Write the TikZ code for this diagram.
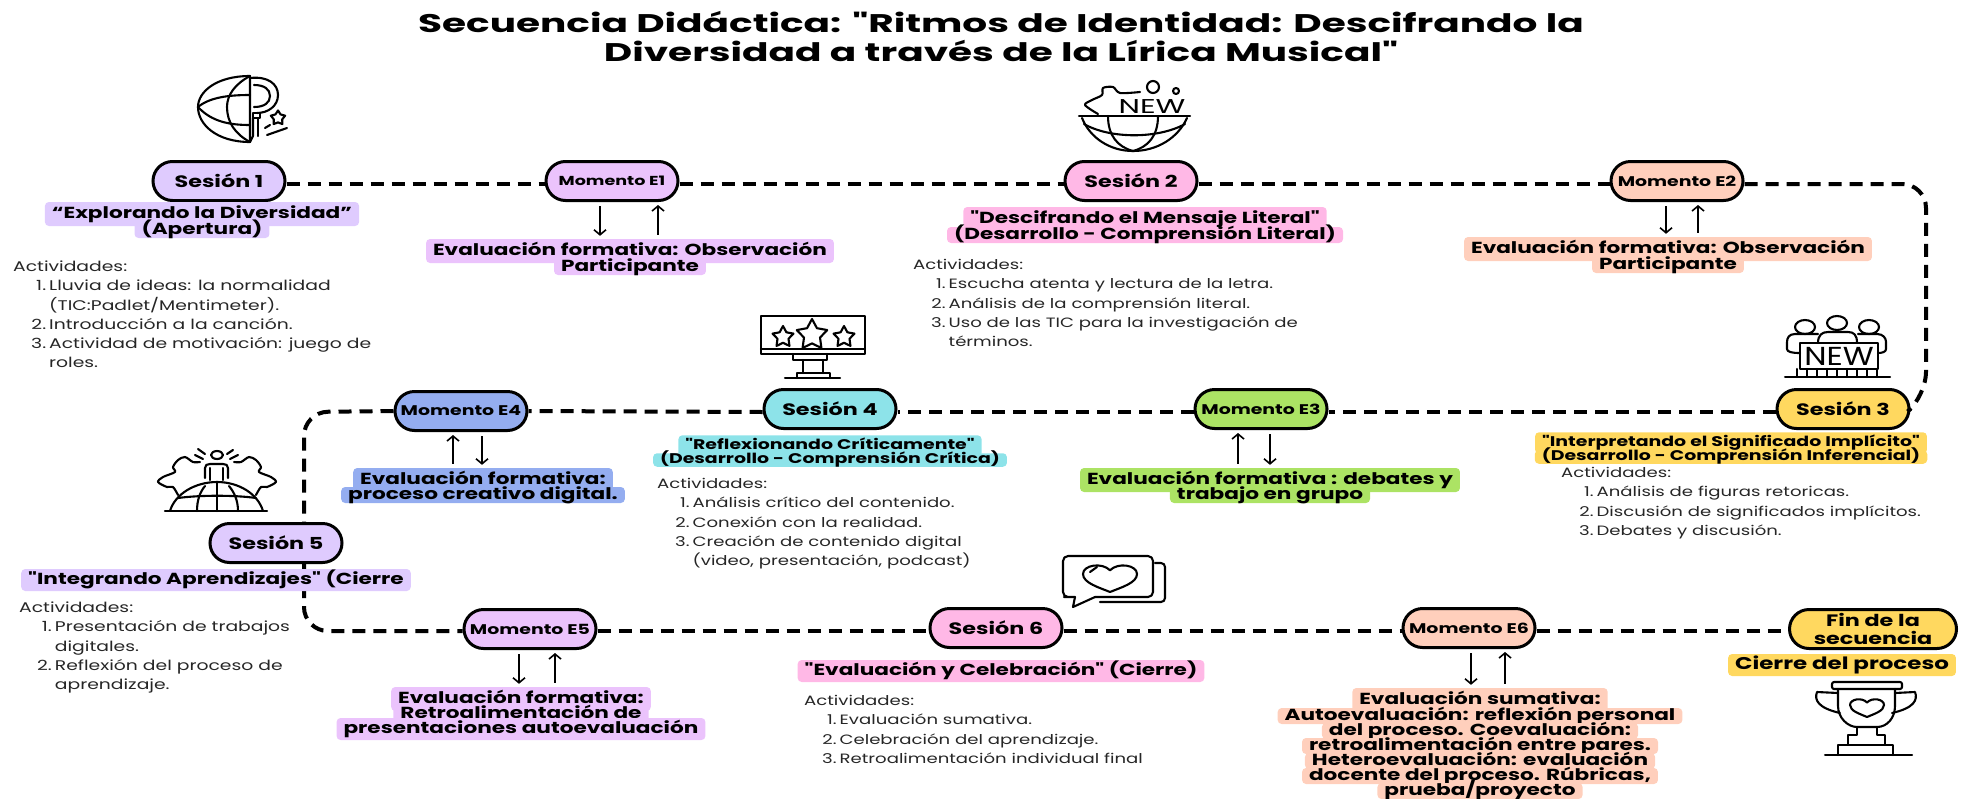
\documentclass[tikz,border=0pt]{standalone}
\usepackage{fontspec}
\setmainfont[FakeStretch=1.22, Ligatures=ResetAll]{Poppins}
\newfontfamily\wideface[FakeStretch=1.35, Ligatures=ResetAll]{Poppins}
\newfontfamily\titleface[FakeStretch=1.53, Ligatures=ResetAll]{Poppins}
\newfontfamily\listface[FakeStretch=1.34, Ligatures=ResetAll]{Poppins}
\usetikzlibrary{arrows.meta}
\usetikzlibrary{shapes.geometric}
\usetikzlibrary{shapes.misc}
\definecolor{lav}{HTML}{DFCBFE}
\definecolor{orchid}{HTML}{EBC3FC}
\definecolor{rosa}{HTML}{FFB8E6}
\definecolor{peach}{HTML}{FFCFBC}
\definecolor{lime}{HTML}{ACE364}
\definecolor{gold}{HTML}{FFD85F}
\definecolor{aqua}{HTML}{8DE3E9}
\definecolor{sky}{HTML}{94ADF0}
\newenvironment{actividades}{\begin{tabular}{@{\hspace{18pt}}r@{\hspace{3pt}}l@{}}\multicolumn{2}{@{}l@{}}{Actividades:}\\}{\end{tabular}}
\tikzstyle{pill}=[draw, line width=3pt, rounded rectangle, inner sep=0, minimum height=39pt, text=black]
\tikzstyle{sesion}=[pill, minimum width=132pt, font=\wideface\bfseries\fontsize{16.5}{18}\selectfont]
\tikzstyle{momento}=[pill, minimum width=132pt, font=\wideface\bfseries\fontsize{14}{15}\selectfont]
\tikzstyle{hl}=[rounded corners=4pt, inner xsep=7pt, inner ysep=0, text height=12pt, text depth=4pt, font=\wideface\bfseries\fontsize{16}{18}\selectfont]
\tikzstyle{hlsmall}=[hl, text height=10.5pt, text depth=3pt, font=\wideface\bfseries\fontsize{14}{15}\selectfont]
\tikzstyle{toprow}=[inner ysep=4pt]
\tikzstyle{solorow}=[inner ysep=3pt]
\tikzstyle{actlist}=[anchor=north west, inner sep=0, font=\listface\fontsize{13.5}{19.2}\selectfont, text=black!85]
\tikzstyle{trail}=[line width=4pt, dash pattern=on 13pt off 8pt, rounded corners=24pt]
\tikzstyle{flow}=[line width=1.6pt, shorten <=4pt, shorten >=3pt, -{Straight Barb[length=5pt, width=12pt]}]
\tikzstyle{icon}=[line width=2.1pt, line cap=round, line join=round]
\tikzset{heart/.pic={\draw[icon] (0,1) .. controls (-0.4,0.7) and (-1,0.4) .. (-1,-0.2) .. controls (-1,-0.8) and (-0.3,-1) .. (0,-0.45) .. controls (0.3,-1) and (1,-0.8) .. (1,-0.2) .. controls (1,0.4) and (0.4,0.7) .. (0,1) -- cycle;}}
\begin{document}
\begin{tikzpicture}[x=1pt, y=-1pt]
        \useasboundingbox (0,0) rectangle (1969,798);
        \node[align=center, font=\titleface\bfseries\fontsize{25.5}{29}\selectfont] (title) at (1001,37) {Secuencia Didáctica: "Ritmos de Identidad: Descifrando la\\Diversidad a través de la Lírica Musical"};
        % Row one.
        \node[sesion, fill=lav] (sesion1) at (219,181) {Sesión 1};
        \node[momento, fill=orchid, font=\wideface\bfseries\fontsize{13}{15}\selectfont] (momentoE1) at (612,181) {Momento E1};
        \node[sesion, fill=rosa] (sesion2) at (1131,181) {Sesión 2};
        \node[momento, fill=peach] (momentoE2) at (1677,181) {Momento E2};
        % Row two.
        \node[sesion, fill=gold] (sesion3) at (1843,409) {Sesión 3};
        \node[momento, fill=lime] (momentoE3) at (1261,409) {Momento E3};
        \node[sesion, fill=aqua] (sesion4) at (830,409) {Sesión 4};
        \node[momento, fill=sky] (momentoE4) at (461,411) {Momento E4};
        % Row three.
        \node[sesion, fill=lav] (sesion5) at (276,543) {Sesión 5};
        \node[momento, fill=orchid] (momentoE5) at (530,629) {Momento E5};
        \node[sesion, fill=rosa] (sesion6) at (996,628) {Sesión 6};
        \node[momento, fill=peach] (momentoE6) at (1469,628) {Momento E6};
        \node[sesion, fill=gold, minimum width=167pt, align=center, font=\wideface\bfseries\fontsize{16.5}{18}\selectfont] (fin) at (1873,629) {Fin de la\\secuencia};
        \coordinate (turnNE) at (1926,184);
        \coordinate (turnSE) at (1926,396);
        \coordinate (turnNW) at (304,412);
        \coordinate (turnSW) at (304,631);
        \draw[trail] ([yshift=-3pt]sesion1.east) -- ([yshift=-3pt]momentoE1.west);
        \draw[trail] ([yshift=-3pt]momentoE1.east) -- ([yshift=-3pt]sesion2.west);
        \draw[trail] ([yshift=-3pt]sesion2.east) -- ([yshift=-3pt]momentoE2.west);
        \draw[trail] ([yshift=-3pt]momentoE2.east) -- (turnNE) -- (turnSE) -- (sesion3.east);
        \draw[trail] ([yshift=-3pt]sesion3.west) -- ([yshift=-3pt]momentoE3.east);
        \draw[trail] ([yshift=-3pt]momentoE3.west) -- ([yshift=-3pt]sesion4.east);
        \draw[trail] ([yshift=-3pt]sesion4.west) -- (momentoE4.east);
        \draw[trail] (momentoE4.west) -- (turnNW) -- ([xshift=28pt]sesion5.north);
        \draw[trail] ([xshift=28pt]sesion5.south) -- (turnSW) -- ([yshift=-2pt]momentoE5.west);
        \draw[trail] ([yshift=-2pt]momentoE5.east) -- ([yshift=-3pt]sesion6.west);
        \draw[trail] ([yshift=-3pt]sesion6.east) -- ([yshift=-3pt]momentoE6.west);
        \draw[trail] ([yshift=-3pt]momentoE6.east) -- ([yshift=-2pt]fin.west);
        % Highlighted labels, one node per printed line.
        \node[hl, toprow, fill=lav] (labelS1a) at (202,214) {“Explorando la Diversidad”};
        \node[hl, fill=lav] (labelS1b) at (202,230) {(Apertura)};
        \node[hl, toprow, fill=orchid] (labelE1a) at (630,251) {Evaluación formativa: Observación};
        \node[hl, fill=orchid] (labelE1b) at (630,267) {Participante};
        \node[hl, toprow, fill=rosa] (labelS2a) at (1145,219) {"Descifrando el Mensaje Literal"};
        \node[hl, fill=rosa] (labelS2b) at (1145,235) {(Desarrollo - Comprensión Literal)};
        \node[hl, toprow, fill=peach] (labelE2a) at (1668,249) {Evaluación formativa: Observación};
        \node[hl, fill=peach] (labelE2b) at (1668,265) {Participante};
        \node[hlsmall, toprow, fill=gold] (labelS3a) at (1731,443) {"Interpretando el Significado Implícito"};
        \node[hlsmall, fill=gold] (labelS3b) at (1731,457) {(Desarrollo - Comprensión Inferencial)};
        \node[hl, toprow, fill=lime] (labelE3a) at (1270,480) {Evaluación formativa : debates y};
        \node[hl, fill=lime] (labelE3b) at (1270,495) {trabajo en grupo};
        \node[hlsmall, toprow, fill=aqua] (labelS4a) at (830,446) {"Reflexionando Críticamente"};
        \node[hlsmall, fill=aqua] (labelS4b) at (830,460) {(Desarrollo - Comprensión Crítica)};
        \node[hl, toprow, fill=sky] (labelE4a) at (483,480) {Evaluación formativa:};
        \node[hl, fill=sky] (labelE4b) at (483,495) {proceso creativo digital.};
        \node[hl, solorow, fill=lav] (labelS5) at (216,580) {"Integrando Aprendizajes" (Cierre};
        \node[hl, toprow, fill=orchid] (labelE5a) at (521,699) {Evaluación formativa:};
        \node[hl, fill=orchid] (labelE5b) at (521,714) {Retroalimentación de};
        \node[hl, solorow, fill=orchid] (labelE5c) at (521,729) {presentaciones autoevaluación};
        \node[hl, solorow, fill=rosa] (labelS6) at (1001,671) {"Evaluación y Celebración" (Cierre)};
        \node[hl, toprow, fill=peach] (labelE6a) at (1480,700) {Evaluación sumativa:};
        \node[hl, fill=peach] (labelE6b) at (1480,716) {Autoevaluación: reflexión personal};
        \node[hl, fill=peach] (labelE6c) at (1480,731) {del proceso. Coevaluación:};
        \node[hl, fill=peach] (labelE6d) at (1480,746) {retroalimentación entre pares.};
        \node[hl, fill=peach] (labelE6e) at (1480,761) {Heteroevaluación: evaluación};
        \node[hl, fill=peach] (labelE6f) at (1480,776) {docente del proceso. Rúbricas,};
        \node[hl, fill=peach] (labelE6g) at (1480,791) {prueba/proyecto};
        \node[hl, solorow, fill=gold, font=\wideface\bfseries\fontsize{17}{18}\selectfont] (labelFin) at (1842,665) {Cierre del proceso};
        % Arrows between the moments and their labels.
        \draw[flow] ([xshift=-12pt]momentoE1.south) -- ([xshift=-12pt]momentoE1.south |- labelE1a.north);
        \draw[flow] ([xshift=46pt]momentoE1.south |- labelE1a.north) -- ([xshift=46pt]momentoE1.south);
        \draw[flow] ([xshift=-11pt]momentoE2.south) -- ([xshift=-11pt]momentoE2.south |- labelE2a.north);
        \draw[flow] ([xshift=21pt]momentoE2.south |- labelE2a.north) -- ([xshift=21pt]momentoE2.south);
        \draw[flow] ([xshift=-23pt]momentoE3.south |- labelE3a.north) -- ([xshift=-23pt]momentoE3.south);
        \draw[flow] ([xshift=9pt]momentoE3.south) -- ([xshift=9pt]momentoE3.south |- labelE3a.north);
        \draw[flow] ([xshift=-8pt]momentoE4.south |- labelE4a.north) -- ([xshift=-8pt]momentoE4.south);
        \draw[flow] ([xshift=21pt]momentoE4.south) -- ([xshift=21pt]momentoE4.south |- labelE4a.north);
        \draw[flow] ([xshift=-11pt]momentoE5.south) -- ([xshift=-11pt]momentoE5.south |- labelE5a.north);
        \draw[flow] ([xshift=25pt]momentoE5.south |- labelE5a.north) -- ([xshift=25pt]momentoE5.south);
        \draw[flow] ([xshift=2pt]momentoE6.south) -- ([xshift=2pt]momentoE6.south |- labelE6a.north);
        \draw[flow] ([xshift=36pt]momentoE6.south |- labelE6a.north) -- ([xshift=36pt]momentoE6.south);
        % Activity lists.
        \node[actlist, font=\listface\fontsize{14}{19.2}\selectfont] (listS1) at (13,258) {\begin{actividades}
            1.&Lluvia de ideas: la normalidad\\
            &(TIC:Padlet/Mentimeter).\\
            2.&Introducción a la canción.\\
            3.&Actividad de motivación: juego de\\
            &roles.
        \end{actividades}};
        \node[actlist] (listS2) at (913,256) {\begin{actividades}
            1.&Escucha atenta y lectura de la letra.\\
            2.&Análisis de la comprensión literal.\\
            3.&Uso de las TIC para la investigación de\\
            &términos.
        \end{actividades}};
        \node[actlist] (listS3) at (1561,464) {\begin{actividades}
            1.&Análisis de figuras retoricas.\\
            2.&Discusión de significados implícitos.\\
            3.&Debates y discusión.
        \end{actividades}};
        \node[actlist] (listS4) at (657,475) {\begin{actividades}
            1.&Análisis crítico del contenido.\\
            2.&Conexión con la realidad.\\
            3.&Creación de contenido digital\\
            &(video, presentación, podcast)
        \end{actividades}};
        \node[actlist, font=\listface\fontsize{14}{19.2}\selectfont] (listS5) at (19,599) {\begin{actividades}
            1.&Presentación de trabajos\\
            &digitales.\\
            2.&Reflexión del proceso de\\
            &aprendizaje.
        \end{actividades}};
        \node[actlist] (listS6) at (804,692) {\begin{actividades}
            1.&Evaluación sumativa.\\
            2.&Celebración del aprendizaje.\\
            3.&Retroalimentación individual final
        \end{actividades}};
        % Globe with key.
        \draw[icon] (250,76) .. controls (216,76) and (198,92) .. (198,107) .. controls (198,124) and (216,142) .. (250,142) -- cycle;
        \draw[icon] (250,76) .. controls (235,84) and (227,95) .. (227,107) .. controls (227,122) and (235,134) .. (250,142);
        \draw[icon] (198,107) .. controls (210,97) and (230,95) .. (250,95);
        \draw[icon] (198,107) .. controls (212,122) and (230,125) .. (250,125);
        \draw[icon] (250,78) .. controls (268,76) and (278,84) .. (278,95) .. controls (278,106) and (268,113) .. (257,113);
        \draw[icon] (254,85) .. controls (264,85) and (270,89) .. (270,96) .. controls (270,103) and (264,107) .. (254,107);
        \draw[icon] (253,113) rectangle (260,118);
        \draw[icon] (253,118) -- (253,136) -- (250,142);
        \draw[icon] (258,118) -- (258,136);
        \node[icon, draw, star, star points=5, star point ratio=1.7, minimum size=15pt, inner sep=0] (starKey) at (278,118) {};
        \draw[icon] (265,128) -- (270,125);
        \draw[icon] (267,135) -- (287,128);
        % Globe with cloud.
        \draw[icon] plot[smooth] coordinates {(1098,114) (1085,105) (1092,100) (1102,95) (1103,88) (1113,87) (1120,93) (1140,92)};
        \draw[icon] (1153,87) circle[radius=6];
        \draw[icon] (1176,91) circle[radius=3];
        \node[inner sep=0, xscale=1.25, transform shape, font=\fontsize{20}{20}\selectfont] (newA) at (1152,107) {NEW};
        \draw[icon] (1079,116) -- (1190,116);
        \draw[icon] (1082,118) .. controls (1090,138) and (1110,151) .. (1133,151) .. controls (1157,151) and (1178,138) .. (1187,118);
        \draw[icon] (1084,124) .. controls (1110,139) and (1158,139) .. (1185,124);
        \draw[icon] (1108,116) .. controls (1108,136) and (1118,147) .. (1133,151) .. controls (1148,147) and (1158,136) .. (1158,116);
        % Monitor with stars.
        \draw[icon] (761,316) rectangle (865,354);
        \draw[icon] (761,349) -- (865,349);
        \draw[icon] (793,354) -- (793,360) -- (827,360) -- (827,354);
        \draw[icon] (803,360) -- (803,373);
        \draw[icon] (823,360) -- (823,373);
        \draw[icon] (797,378) -- (797,373) -- (830,373) -- (830,378);
        \draw[icon] (785,378) -- (840,378);
        \node[icon, draw, star, star points=5, star point ratio=1.9, minimum size=22pt, inner sep=0] (starLeft) at (783,337) {};
        \node[icon, draw, star, star points=5, star point ratio=1.9, minimum size=32pt, inner sep=0] (starMid) at (812,335) {};
        \node[icon, draw, star, star points=5, star point ratio=1.9, minimum size=22pt, inner sep=0] (starRight) at (844,337) {};
        % People with banner.
        \draw[icon] (1805,327) ellipse[x radius=10, y radius=7];
        \draw[icon] (1837,323) ellipse[x radius=10, y radius=7];
        \draw[icon] (1869,327) ellipse[x radius=10, y radius=7];
        \draw[icon] (1818,343) .. controls (1818,335) and (1822,332) .. (1828,332) -- (1848,332) .. controls (1854,332) and (1857,335) .. (1857,343);
        \draw[icon] (1800,343) rectangle (1878,369);
        \draw[icon] (1818,334) -- (1795,334) .. controls (1789,334) and (1787,338) .. (1787,342) -- (1787,349) .. controls (1787,352) and (1792,353) .. (1800,353);
        \draw[icon] (1858,334) -- (1877,334) .. controls (1883,334) and (1886,338) .. (1886,342) -- (1886,349) .. controls (1886,352) and (1882,353) .. (1878,353);
        \foreach \xtick in {1797,1807,...,1877} {\draw[icon] (\xtick,369) -- (\xtick,377);}
        \draw[icon] (1785,377) -- (1890,377);
        \node[inner sep=0, font=\fontsize{26}{26}\selectfont] (newB) at (1839,356) {NEW};
        % Person on globe.
        \draw[icon] (165,511) -- (267,511);
        \draw[icon] (170,511) .. controls (175,494) and (195,482) .. (217,482) .. controls (239,482) and (258,494) .. (263,511);
        \draw[icon] (217,482) -- (217,511);
        \draw[icon] (197,511) .. controls (197,500) and (200,492) .. (205,486);
        \draw[icon] (238,511) .. controls (238,500) and (234,492) .. (229,486);
        \draw[icon] (178,498) .. controls (200,495) and (235,495) .. (256,498);
        \draw[icon] (205,478) -- (205,468) .. controls (205,465) and (207,464) .. (210,464) -- (223,464) .. controls (226,464) and (228,465) .. (228,468) -- (228,478);
        \draw[icon] (210,468) -- (210,480);
        \draw[icon] (223,468) -- (223,480);
        \draw[icon] (217,455) ellipse[x radius=6, y radius=4];
        \draw[icon] (195,455) -- (203,459);
        \draw[icon] (198,449) -- (205,454);
        \draw[icon] (233,450) -- (227,454);
        \draw[icon] (238,455) -- (230,459);
        \draw[icon] plot[smooth] coordinates {(200,462) (193,462) (185,457) (178,460) (173,467) (175,472) (163,477) (158,482) (167,487) (173,487) (178,495)};
        \draw[icon] plot[smooth] coordinates {(234,462) (241,462) (249,457) (256,460) (261,467) (259,472) (271,477) (276,482) (267,487) (261,487) (256,495)};
        % Speech bubble.
        \draw[icon, rounded corners=5pt] (1075,597) -- (1069,597) -- (1063,597) -- (1063,556) -- (1153,556) -- (1153,597) -- (1095,597);
        \draw[icon] (1075,597) -- (1073,607) -- (1095,597);
        \draw[icon, rounded corners=4pt] (1155,563) -- (1165,563) -- (1165,602) -- (1100,602);
        \pic[xscale=27, yscale=15] (heartChat) at (1110,577) {heart};
        \draw[icon] (1090,572) -- (1097,567);
        % Trophy.
        \draw[icon, rounded corners=2pt] (1832,682) rectangle (1902,689);
        \draw[icon] (1838,689) -- (1838,706) .. controls (1838,718) and (1848,727) .. (1857,727) -- (1877,727) .. controls (1887,727) and (1895,718) .. (1895,706) -- (1895,689);
        \draw[icon] (1838,693) -- (1817,692) .. controls (1814,700) and (1818,708) .. (1840,713);
        \draw[icon] (1895,693) -- (1915,692) .. controls (1918,700) and (1914,708) .. (1892,713);
        \pic[xscale=17, yscale=10] (heartCup) at (1867,707) {heart};
        \draw[icon] (1857,727) -- (1857,735) -- (1848,735) -- (1848,745) -- (1838,745) -- (1838,755);
        \draw[icon] (1877,727) -- (1877,735) -- (1885,735) -- (1885,745) -- (1893,745) -- (1893,755);
        \draw[icon] (1848,745) -- (1885,745);
        \draw[icon] (1825,755) -- (1912,755);
\end{tikzpicture}
\end{document}
